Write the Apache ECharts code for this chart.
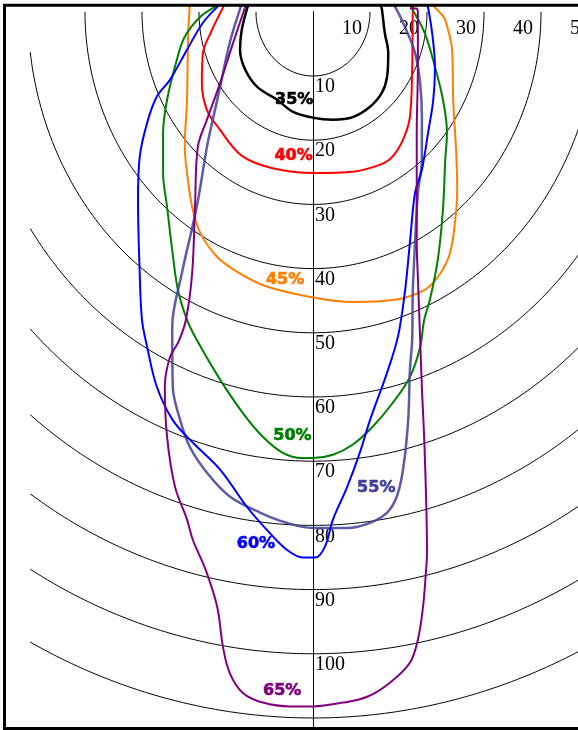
<!DOCTYPE html>
<html>
<head>
<meta charset="utf-8">
<title>Isolinien</title>
<script src="https://cdn.jsdelivr.net/npm/echarts@6.0.0/dist/echarts.min.js"></script>
<style>
  html, body { margin: 0; padding: 0; background: #fff; }
  #chart { width: 578px; height: 730px; }
</style>
</head>
<body>
<div id="chart"></div>
<script>
// Contour levels and their colours
const levels = ['35%', '40%', '45%', '50%', '55%', '60%', '65%'];
const levelColors = ['#000000', '#ff0000', '#ff7f00', '#008000', '#40409a', '#0000ff', '#800080'];

// Contour outlines, [lateral, depth] in axis units
const c35 = [[-11.4,-1.0],[-12.5,2.8],[-12.8,5.9],[-11.9,9.0],[-9.8,11.7],[-6.3,13.7],[-3.5,15.6],[0,16.5],[3.5,16.8],[7.0,16.4],[10.0,14.8],[12.1,12.6],[13.0,10.1],[13.2,6.4],[12.6,3.3],[12.1,-0.3],[11.9,-1.0]];
const c40 = [[-15.6,-1.0],[-16.0,-0.3],[-17.7,2.8],[-19.3,6.4],[-19.5,11.1],[-18.6,15.3],[-16.3,18.4],[-13.3,21.8],[-10.5,23.4],[-5.8,24.6],[0,25.1],[7.0,24.9],[11.8,23.8],[13.9,22.6],[15.8,19.9],[17.0,16.4],[17.4,8.6],[17.5,0.2],[17.6,-1.0]];
const c45 = [[-21.6,-1.0],[-21.9,3.3],[-22.1,13.7],[-22.5,21.0],[-22.1,25.1],[-21.2,30.4],[-19.8,34.4],[-16.8,38.2],[-13.3,40.5],[-8.1,42.8],[0,44.5],[7.0,45.2],[14.0,44.9],[19.6,43.3],[22.3,40.8],[24.0,37.7],[24.9,32.9],[25.3,27.7],[25.1,21.5],[24.6,13.7],[24.4,5.9],[23.7,2.8],[23.0,0.9],[21.8,-0.3],[21.1,-1.0]];
const c50 = [[-16.7,-1.0],[-19.8,0.8],[-22.5,3.9],[-23.9,7.5],[-25.6,13.7],[-26.3,18.8],[-26.3,25.1],[-25.6,30.4],[-24.7,37.1],[-23.7,43.3],[-22.1,48.0],[-20.4,51.1],[-16.3,57.3],[-12.3,62.5],[-8.8,66.2],[-5.3,68.7],[-1.9,69.5],[0,69.5],[3.5,69.0],[7.0,67.4],[10.5,64.6],[14.0,60.9],[17.0,56.9],[18.8,52.2],[19.5,48.0],[20.5,44.9],[21.9,38.6],[22.8,30.8],[23.2,23.1],[23.5,18.8],[22.8,13.7],[21.4,8.6],[19.6,3.3],[17.5,-0.3],[17.0,-1.0]];
const c55 = [[-12.6,-1.0],[-14.6,4.8],[-16.3,11.7],[-17.7,17.3],[-18.6,21.0],[-20.4,30.4],[-23.0,40.7],[-24.7,49.1],[-24.6,58.4],[-23.3,63.6],[-21.6,67.8],[-18.6,71.8],[-14.6,75.5],[-9.3,78.0],[-4.6,79.6],[0,80.4],[6.0,80.4],[10.0,79.6],[13.0,78.0],[14.7,75.5],[15.8,71.3],[16.7,63.6],[17.0,55.8],[17.4,51.1],[17.5,43.8],[17.9,36.0],[18.4,28.2],[19.1,23.1],[19.1,16.4],[18.8,11.1],[17.9,6.4],[16.1,2.3],[14.4,-0.8],[14.0,-1.0]];
const c60 = [[-16.5,-1.0],[-19.3,1.7],[-22.1,5.9],[-25.1,10.6],[-27.4,13.2],[-29.1,17.3],[-30.4,22.6],[-30.7,29.3],[-30.4,40.7],[-30.0,48.0],[-29.1,52.2],[-27.4,58.4],[-24.6,63.6],[-21.1,67.1],[-16.3,71.3],[-11.6,77.1],[-8.1,80.7],[-4.6,83.8],[-1.8,85.0],[0.4,85.0],[2.1,83.3],[3.5,79.1],[6.0,74.0],[8.2,68.7],[10.0,63.6],[13.0,56.2],[14.9,50.6],[16.1,43.8],[17.0,36.0],[17.9,28.2],[19.1,24.6],[20.2,18.8],[21.1,13.7],[21.4,8.6],[20.9,3.3],[20.2,-0.6],[20.0,-1.0]];
const c65 = [[-11.8,-1.0],[-14.0,4.8],[-16.3,11.1],[-18.6,16.8],[-20.2,21.0],[-20.7,30.4],[-21.2,40.7],[-22.3,48.0],[-23.6,51.4],[-25.1,53.8],[-26.0,58.4],[-25.6,66.2],[-24.2,74.0],[-22.1,79.1],[-21.1,82.2],[-18.8,87.0],[-16.8,92.7],[-15.8,98.9],[-14.6,103.0],[-12.3,106.1],[-8.8,107.6],[-4.0,108.2],[0,108.2],[5.3,107.6],[9.5,106.7],[13.5,104.5],[17.0,101.4],[18.4,97.8],[19.3,92.7],[19.8,87.4],[20.0,84.3],[19.6,68.7],[19.1,58.4],[18.8,51.1],[18.4,41.3],[18.2,36.0],[18.2,23.1],[18.2,18.8],[18.4,8.6],[18.4,0.2],[18.1,-0.5],[17.0,-0.5]];
const contours = [c35, c40, c45, c50, c55, c60, c65];

// Where each level's caption sits, [lateral, depth]
const levelLabelAt = [[-3.3,13.7],[-3.4,22.4],[-4.9,41.7],[-3.6,66.0],[11.1,74.1],[-10.0,82.8],[-5.4,105.8]];

// Distance rings and tick labels
const ringRadii = [10, 20, 30, 40, 50, 60, 70, 80, 90, 100, 110];
const ringSideLimit = 49.6;
const xTickValues = [10, 20, 30, 40, 50];
const yTickValues = [10, 20, 30, 40, 50, 60, 70, 80, 90, 100];

// Plot area: the lateral axis spans -54..54, the depth axis 0..111.5
const X_MIN = -54, X_MAX = 54, Y_MAX = 111.5;
const GRID_LEFT = 5.2, GRID_TOP = 11.8, GRID_W = 615.6, GRID_H = 715.8;
const centreOffset = GRID_W * (0 - X_MIN) / (X_MAX - X_MIN);

// Lower half of a ring, cut off at the side limit
function ringPoints(r) {
  const a0 = r > ringSideLimit ? Math.acos(ringSideLimit / r) : 0;
  const steps = 180;
  const pts = [];
  for (let i = 0; i <= steps; i++) {
    const a = a0 + (Math.PI - 2 * a0) * i / steps;
    pts.push([r * Math.cos(a), r * Math.sin(a)]);
  }
  return pts;
}

const tickFont = { fontFamily: 'Liberation Serif', fontSize: 20, color: '#000' };

const series = [];
ringRadii.forEach(function (r) {
  series.push({
    type: 'line', data: ringPoints(r), showSymbol: false, silent: true,
    lineStyle: { color: '#000', width: 1 }, z: 1
  });
});
contours.forEach(function (pts, i) {
  series.push({
    type: 'line', name: levels[i], data: pts, showSymbol: false, silent: true,
    smooth: 0.35, clip: false,
    lineStyle: {
      color: levelColors[i],
      width: i === 0 ? 2.5 : (i === 4 ? 2.5 : 2),
      opacity: i === 4 ? 0.85 : 1
    },
    z: 3
  });
});
series.push({
  type: 'scatter', symbolSize: 0, silent: true, z: 5,
  itemStyle: { opacity: 1 },
  data: levelLabelAt.map(function (p, i) {
    return {
      value: p,
      name: levels[i],
      label: { color: levelColors[i], textBorderColor: levelColors[i] }
    };
  }),
  label: {
    show: true, position: 'inside',
    formatter: function (p) { return p.name; },
    fontFamily: 'DejaVu Sans', fontWeight: 'bold', fontSize: 16,
    textBorderWidth: 0.6, opacity: 1
  }
});

const chart = echarts.init(document.getElementById('chart'), null, { renderer: 'canvas' });
chart.setOption({
  animation: false,
  backgroundColor: '#fff',
  grid: {
    left: GRID_LEFT, top: GRID_TOP, width: GRID_W, height: GRID_H,
    containLabel: false, outerBoundsMode: 'none'
  },
  xAxis: {
    type: 'value', min: X_MIN, max: X_MAX, position: 'top',
    axisLine: { show: false }, axisTick: { show: false }, splitLine: { show: false },
    axisLabel: Object.assign({
      inside: true, customValues: xTickValues, margin: 17,
      align: 'right', verticalAlign: 'middle', padding: [0, 8, 0, 0]
    }, tickFont)
  },
  yAxis: {
    type: 'value', inverse: true, min: 0, max: Y_MAX,
    position: 'left', offset: -centreOffset,
    axisLine: { show: true, onZero: false, lineStyle: { color: '#000', width: 1 } },
    axisTick: { show: false }, splitLine: { show: false },
    axisLabel: Object.assign({
      inside: true, customValues: yTickValues, margin: 2,
      align: 'left', verticalAlign: 'top', lineHeight: 22
    }, tickFont)
  },
  graphic: [{
    type: 'rect', z: 100, silent: true,
    shape: { x: 4.5, y: 5.3, width: 800, height: 723.2 },
    style: { fill: null, stroke: '#000', lineWidth: 3 }
  }],
  series: series
});
</script>
</body>
</html>
